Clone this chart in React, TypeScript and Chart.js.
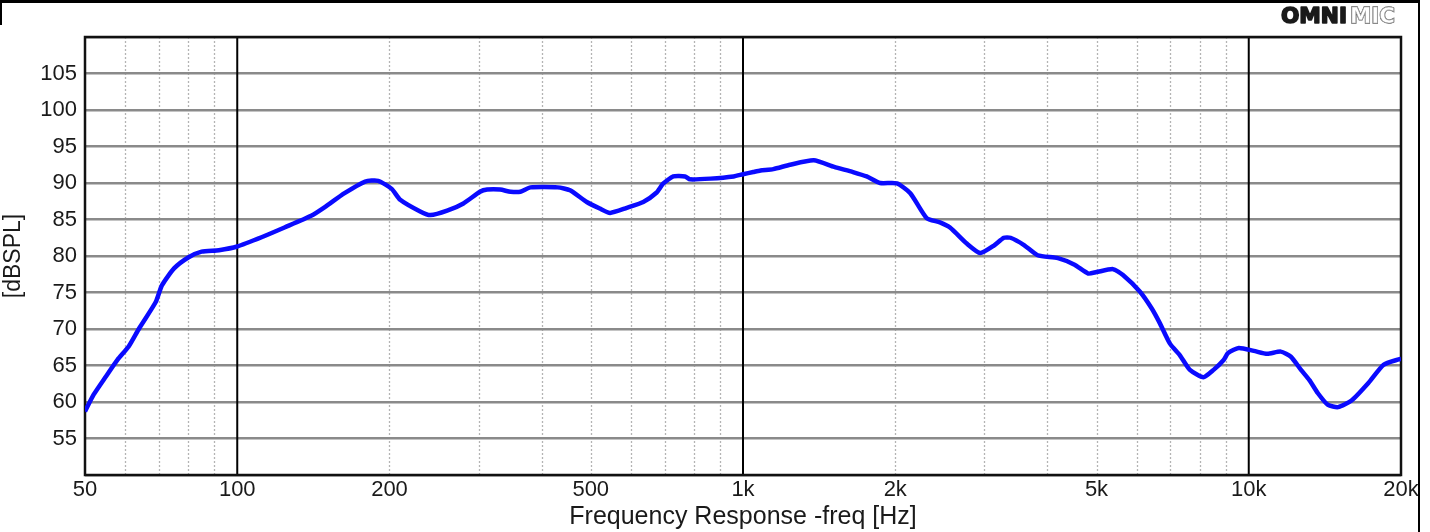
import React, { useEffect, useRef } from "react";
import { Chart, registerables } from "chart.js";

Chart.register(...registerables);

// Frequency response data (Hz, dB SPL)
const frequencies = [
  50, 52, 55, 58, 61, 64, 69, 71, 75, 80, 85, 92, 100, 112, 124, 140, 149, 163, 179, 190,
  202, 210, 230, 241, 260, 280, 302, 312, 331, 347, 363, 380, 430, 455, 491, 521, 546, 589,
  635, 675, 695, 728, 768, 786, 862, 958, 1000, 1048, 1083, 1148, 1239, 1380, 1515, 1650,
  1756, 1867, 2015, 2142, 2307, 2451, 2566, 2770, 2945, 3130, 3280, 3380, 3594, 3825, 4195,
  4525, 4815, 5000, 5390, 5640, 6095, 6430, 6670, 6985, 7310, 7650, 8135, 8520, 8920, 9100,
  9555, 10235, 10880, 11570, 12115, 12685, 13180, 13700, 14345, 15020, 15970, 17240, 18480,
  19800, 20000,
];
const spl = [
  58.7, 61.0, 63.5, 65.8, 67.6, 70.1, 73.7, 76.0, 78.3, 79.8, 80.6, 80.8, 81.3, 82.6, 83.9,
  85.5, 86.7, 88.6, 90.2, 90.3, 89.2, 87.7, 86.1, 85.6, 86.2, 87.2, 88.8, 89.1, 89.1, 88.8,
  88.8, 89.4, 89.4, 89.0, 87.4, 86.5, 85.9, 86.6, 87.4, 88.7, 89.9, 90.9, 90.9, 90.5, 90.6,
  90.9, 91.2, 91.5, 91.7, 91.9, 92.5, 93.1, 92.2, 91.5, 90.9, 90.0, 89.95, 88.6, 85.2, 84.6,
  83.9, 81.7, 80.4, 81.4, 82.5, 82.5, 81.5, 80.1, 79.7, 78.8, 77.6, 77.8, 78.2, 77.4, 75.1,
  72.8, 70.8, 68.0, 66.4, 64.4, 63.4, 64.4, 65.75, 66.7, 67.4, 67.0, 66.6, 66.9, 66.2, 64.4,
  63.0, 61.2, 59.6, 59.3, 60.2, 62.6, 65.1, 65.85, 65.9,
];

// Axis ticks
const xTickValues = [
  50, 60, 70, 80, 90, 100, 200, 300, 400, 500, 600, 700, 800, 900, 1000, 2000, 3000, 4000,
  5000, 6000, 7000, 8000, 9000, 10000, 20000,
];
const xLabelValues = [50, 100, 200, 500, 1000, 2000, 5000, 10000, 20000];
const xLabelTexts = ["50", "100", "200", "500", "1k", "2k", "5k", "10k", "20k"];
const xMajorGrid = [100, 1000, 10000];
const xMinorGrid = [
  60, 70, 80, 90, 200, 300, 400, 500, 600, 700, 800, 900, 2000, 3000, 4000, 5000, 6000,
  7000, 8000, 9000,
];
const yMin = 50;
const yMax = 110;
const yStep = 5;
const yHiddenLabels = [50, 110];

const FONT = '"Liberation Sans", Arial, Helvetica, sans-serif';

const gridPlugin = {
  id: "omniGrid",
  beforeDraw(chart: any) {
    const { ctx, chartArea, scales } = chart;
    const xs = scales.x;
    ctx.save();
    ctx.strokeStyle = "#b4b4b4";
    ctx.lineWidth = 1.3;
    ctx.setLineDash([2, 2]);
    for (const v of xMinorGrid) {
      const px = Math.round(xs.getPixelForValue(v)) + 0.5;
      ctx.beginPath();
      ctx.moveTo(px, chartArea.top);
      ctx.lineTo(px, chartArea.bottom);
      ctx.stroke();
    }
    ctx.restore();
  },
  beforeDatasetsDraw(chart: any) {
    const { ctx, chartArea, scales } = chart;
    const xs = scales.x;
    ctx.save();
    ctx.strokeStyle = "#000";
    ctx.lineWidth = 2;
    for (const v of xMajorGrid) {
      const px = xs.getPixelForValue(v);
      ctx.beginPath();
      ctx.moveTo(px, chartArea.top);
      ctx.lineTo(px, chartArea.bottom);
      ctx.stroke();
    }
    ctx.lineWidth = 2.5;
    ctx.strokeStyle = "#111";
    ctx.strokeRect(
      chartArea.left,
      chartArea.top,
      chartArea.right - chartArea.left,
      chartArea.bottom - chartArea.top
    );
    ctx.restore();
  },
  afterDraw(chart: any) {
    const { ctx, width, height } = chart;
    ctx.save();
    // outer frame
    ctx.fillStyle = "#000";
    ctx.fillRect(0, 0, width - 10, 3);
    ctx.fillRect(0, 0, 2, 25);
    ctx.fillRect(width - 12, 0, 2, height);
    // logo
    ctx.font = `bold 21px "DejaVu Sans", ${FONT}`;
    ctx.textBaseline = "alphabetic";
    const w1 = ctx.measureText("OMNI").width;
    ctx.save();
    ctx.translate(1281, 23);
    ctx.scale(66 / w1, 1);
    ctx.fillStyle = "#1a1a1a";
    ctx.strokeStyle = "#1a1a1a";
    ctx.lineWidth = 1.6;
    ctx.lineJoin = "round";
    ctx.fillText("OMNI", 0, 0);
    ctx.strokeText("OMNI", 0, 0);
    ctx.restore();
    const w2 = ctx.measureText("MIC").width;
    ctx.save();
    ctx.translate(1350, 23);
    ctx.scale(45 / w2, 1);
    ctx.fillStyle = "#ffffff";
    ctx.strokeStyle = "#555";
    ctx.lineWidth = 1.4;
    ctx.strokeText("MIC", 0, 0);
    ctx.fillText("MIC", 0, 0);
    ctx.strokeStyle = "#aaa";
    ctx.lineWidth = 0.6;
    ctx.strokeText("MIC", 0, 0);
    ctx.restore();
    ctx.restore();
  },
};

export default function App() {
  const canvasRef = useRef<HTMLCanvasElement | null>(null);

  useEffect(() => {
    if (!canvasRef.current) return;
    const chart = new Chart(canvasRef.current, {
      type: "line",
      data: {
        datasets: [
          {
            data: frequencies.map((f, i) => ({ x: f, y: spl[i] })),
            borderColor: "#0a0aff",
            borderWidth: 4.5,
            pointRadius: 0,
            tension: 0.2,
            fill: false,
          },
        ],
      },
      options: {
        responsive: false,
        devicePixelRatio: 1,
        animation: false,
        events: [],
        layout: { padding: { top: 37, right: 29, left: 0, bottom: 0 } },
        plugins: { legend: { display: false }, tooltip: { enabled: false } },
        scales: {
          x: {
            type: "logarithmic",
            min: 50,
            max: 20000,
            afterBuildTicks: (scale: any) => {
              scale.ticks = xTickValues.map((v) => ({ value: v }));
            },
            afterFit: (scale: any) => {
              scale.height = 57;
            },
            grid: { display: false, drawTicks: false },
            border: { display: false },
            ticks: {
              autoSkip: false,
              maxRotation: 0,
              padding: 2,
              color: "#1a1a1a",
              font: { family: FONT, size: 22 },
              callback: (value: any) => {
                const i = xLabelValues.indexOf(Number(value));
                return i >= 0 ? xLabelTexts[i] : "";
              },
            },
            title: {
              display: true,
              text: "Frequency Response -freq [Hz]",
              color: "#1a1a1a",
              font: { family: FONT, size: 25 },
              padding: { top: 0, bottom: 0 },
            },
          },
          y: {
            type: "linear",
            min: yMin,
            max: yMax,
            afterFit: (scale: any) => {
              scale.width = 85;
            },
            grid: { color: "#8a8a8a", lineWidth: 2.5, drawTicks: false },
            border: { display: false },
            ticks: {
              stepSize: yStep,
              padding: 8,
              color: "#1a1a1a",
              font: { family: FONT, size: 22 },
              callback: (value: any) =>
                yHiddenLabels.includes(Number(value)) ? "" : String(value),
            },
            title: {
              display: true,
              text: "[dBSPL]",
              color: "#1a1a1a",
              font: { family: FONT, size: 23 },
              padding: { top: 0, bottom: 8 },
            },
          },
        },
      },
      plugins: [gridPlugin],
    } as any);
    return () => chart.destroy();
  }, []);

  return (
    <div style={{ position: "fixed", left: 0, top: 0, width: 1430, height: 532, background: "#fff" }}>
      <canvas ref={canvasRef} width={1430} height={532} style={{ display: "block" }} />
    </div>
  );
}
